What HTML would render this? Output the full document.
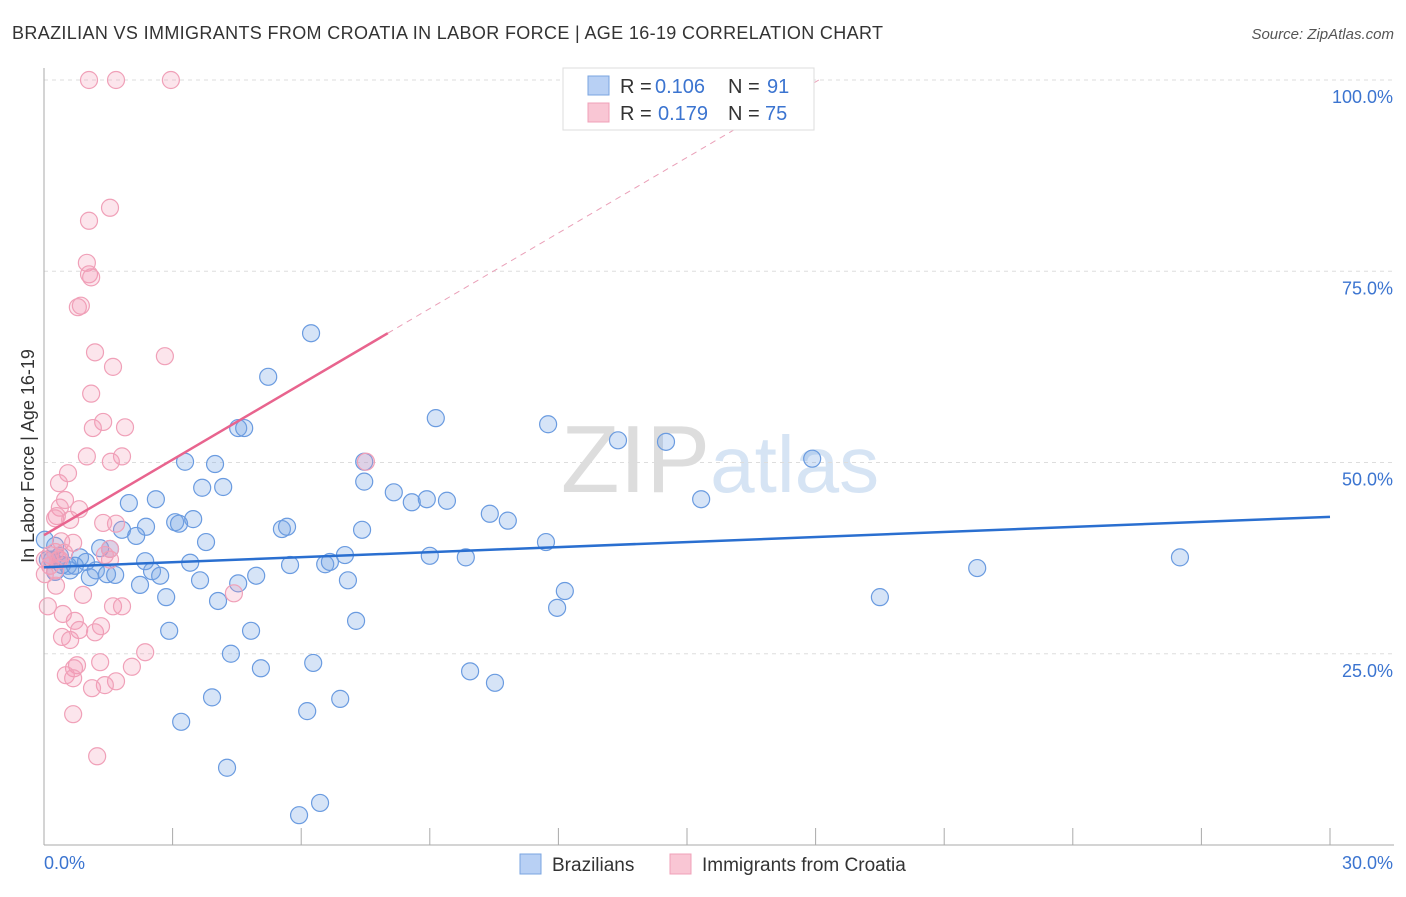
<!DOCTYPE html>
<html><head><meta charset="utf-8"><style>
body{margin:0;background:#fff;font-family:"Liberation Sans",sans-serif}
svg text{font-family:"Liberation Sans",sans-serif}
</style></head><body>
<svg width="1406" height="892" xmlns="http://www.w3.org/2000/svg" id="chart">
<text x="12" y="39" font-size="18" fill="#333" textLength="871" lengthAdjust="spacing">BRAZILIAN VS IMMIGRANTS FROM CROATIA IN LABOR FORCE | AGE 16-19 CORRELATION CHART</text>
<text x="1394" y="39" font-size="15" fill="#555" text-anchor="end" font-style="italic">Source: ZipAtlas.com</text>
<text x="720" y="492" font-size="96" fill="#e6e6e6" text-anchor="middle" font-family="Liberation Serif"><tspan fill="#ddd">ZIP</tspan><tspan fill="#d6e4f4" font-family="Liberation Sans" font-size="80">atlas</tspan></text>
<g id="grid"></g>
<line x1="44" y1="68" x2="44" y2="845" stroke="#aaa"/>
<line x1="44" y1="845" x2="1394" y2="845" stroke="#aaa"/>
<g id="xticks"></g>
<text transform="translate(34,456) rotate(-90)" font-size="18" fill="#333" text-anchor="middle">In Labor Force | Age 16-19</text>
<text x="44" y="869" font-size="18" fill="#3b74d0">0.0%</text>
<text x="1393" y="869" font-size="18" fill="#3b74d0" text-anchor="end">30.0%</text>
<g id="pts"></g>
<g id="lines"></g>
<g>
<rect x="563" y="68" width="251" height="62" fill="#fff" stroke="#ddd"/>
<rect x="588" y="76" width="21" height="19" fill="#b8d0f4" stroke="#7aa4e0"/>
<rect x="588" y="103" width="21" height="19" fill="#f9c6d4" stroke="#f0a0b8"/>
<text x="620" y="93" font-size="20" fill="#333">R =</text>
<text x="655" y="93" font-size="20" fill="#3b74d0">0.106</text>
<text x="728" y="93" font-size="20" fill="#333">N =</text>
<text x="767" y="93" font-size="20" fill="#3b74d0">91</text>
<text x="620" y="120" font-size="20" fill="#333">R =</text>
<text x="658" y="120" font-size="20" fill="#3b74d0">0.179</text>
<text x="728" y="120" font-size="20" fill="#333">N =</text>
<text x="765" y="120" font-size="20" fill="#3b74d0">75</text>
</g>
<g>
<rect x="520" y="854" width="21" height="20" fill="#b8d0f4" stroke="#7aa4e0"/>
<text x="552" y="871" font-size="19" fill="#333">Brazilians</text>
<rect x="670" y="854" width="21" height="20" fill="#f9c6d4" stroke="#f0a0b8"/>
<text x="702" y="871" font-size="19" fill="#333">Immigrants from Croatia</text>
</g>
</svg>
<script>
const yTicks=[25,50,75,100];
const xTicks=[0,3,6,9,12,15,18,21,24,27,30];
const bluePx=[[311,333],[268,377],[238,428],[244,428],[436,418],[548,424],[618,440],[666,442],[812,459],[185,462],[215,464],[364,462],[202,488],[223,487],[156,499],[129,503],[364,482],[394,492],[412,502],[427,499],[447,501],[490,514],[508,521],[701,499],[175,522],[193,519],[179,524],[282,529],[287,527],[362,530],[122,530],[146,527],[136,536],[206,542],[546,542],[100,548],[110,549],[345,555],[430,556],[466,557],[60,556],[80,557],[86,562],[145,561],[190,563],[290,565],[325,564],[330,562],[1180,557],[977,568],[52,560],[68,566],[70,570],[90,577],[96,570],[107,574],[115,575],[152,571],[160,576],[238,583],[256,576],[200,580],[348,580],[140,585],[166,597],[218,601],[565,591],[557,608],[880,597],[356,621],[169,631],[251,631],[231,654],[313,663],[261,668],[470,671],[495,683],[212,697],[340,699],[307,711],[181,722],[227,768],[320,803],[299,815],[48,560],[55,572],[62,565],[75,566],[55,546],[45,540]];
const pinkPx=[[89,80],[116,80],[171,80],[110,208],[89,221],[87,263],[89,274],[91,277],[78,307],[81,306],[95,352],[165,356],[113,367],[91,394],[103,422],[93,428],[125,427],[122,456],[111,462],[87,456],[366,462],[68,473],[59,483],[65,500],[79,509],[60,508],[57,516],[70,520],[55,518],[103,523],[116,524],[61,541],[73,543],[110,549],[50,555],[55,552],[45,560],[50,566],[55,570],[60,560],[45,574],[110,560],[105,555],[56,586],[83,595],[234,593],[113,606],[122,606],[48,606],[63,614],[75,621],[79,630],[95,632],[62,637],[70,640],[101,626],[145,652],[100,662],[77,665],[74,668],[132,667],[66,675],[73,678],[116,681],[105,685],[92,688],[73,714],[97,756],[58,560],[64,553]];
const blueX=bluePx.map(p=>+((p[0]-44)/1286*30).toFixed(2));
const blueY=bluePx.map(p=>+((845-p[1])/765*100).toFixed(1));
const pinkX=pinkPx.map(p=>+((p[0]-44)/1286*30).toFixed(2));
const pinkY=pinkPx.map(p=>+((845-p[1])/765*100).toFixed(1));
const blueTrend=[36.3,42.9];
const pinkTrend=[40.5,66.9];
const pinkTrendEndX=8.02;
const NS="http://www.w3.org/2000/svg";
const sx=v=>44+v/30*1286, sy=v=>845-v/100*765;
function mk(t,a,p){const e=document.createElementNS(NS,t);for(const k in a)e.setAttribute(k,a[k]);p.appendChild(e);return e;}
const grid=document.getElementById('grid');
yTicks.forEach(t=>{
 const l=mk('line',{x1:44,x2:1394,y1:sy(t),y2:sy(t),stroke:'#ddd','stroke-dasharray':'4,4'},grid);
 
 
 const tx=mk('text',{x:1393,y:sy(t)+23,'font-size':18,fill:'#3b74d0','text-anchor':'end'},grid);
 tx.textContent=t.toFixed(1)+'%';
 
 
});
const xt=document.getElementById('xticks');
xTicks.forEach(t=>{
 const l=mk('line',{x1:sx(t),x2:sx(t),y1:828,y2:845,stroke:'#aaa'},xt);
 
 
});
const pts=document.getElementById('pts');
blueX.forEach((x,i)=>{
 const c=mk('circle',{cx:sx(x),cy:sy(blueY[i]),r:8.5,fill:'rgba(120,165,230,0.3)',stroke:'#6a9be0','stroke-width':1.2},pts);
 
 
});
pinkX.forEach((x,i)=>{
 const c=mk('circle',{cx:sx(x),cy:sy(pinkY[i]),r:8.5,fill:'rgba(245,150,180,0.25)',stroke:'#f0a0b8','stroke-width':1.2},pts);
 
 
});
const ln=document.getElementById('lines');
const b=mk('line',{x1:sx(0),y1:sy(blueTrend[0]),x2:sx(30),y2:sy(blueTrend[1]),stroke:'#2a6fd0','stroke-width':2.5},ln);


const slope=(pinkTrend[1]-pinkTrend[0])/pinkTrendEndX;
const xEnd=(100-pinkTrend[0])/slope;
const pd=mk('line',{x1:sx(pinkTrendEndX),y1:sy(pinkTrend[1]),x2:sx(xEnd),y2:sy(100),stroke:'#eaa0b8','stroke-width':1,'stroke-dasharray':'6,5'},ln);


const p=mk('line',{x1:sx(0),y1:sy(pinkTrend[0]),x2:sx(pinkTrendEndX),y2:sy(pinkTrend[1]),stroke:'#e8648e','stroke-width':2.5},ln);


</script>
</body></html>
